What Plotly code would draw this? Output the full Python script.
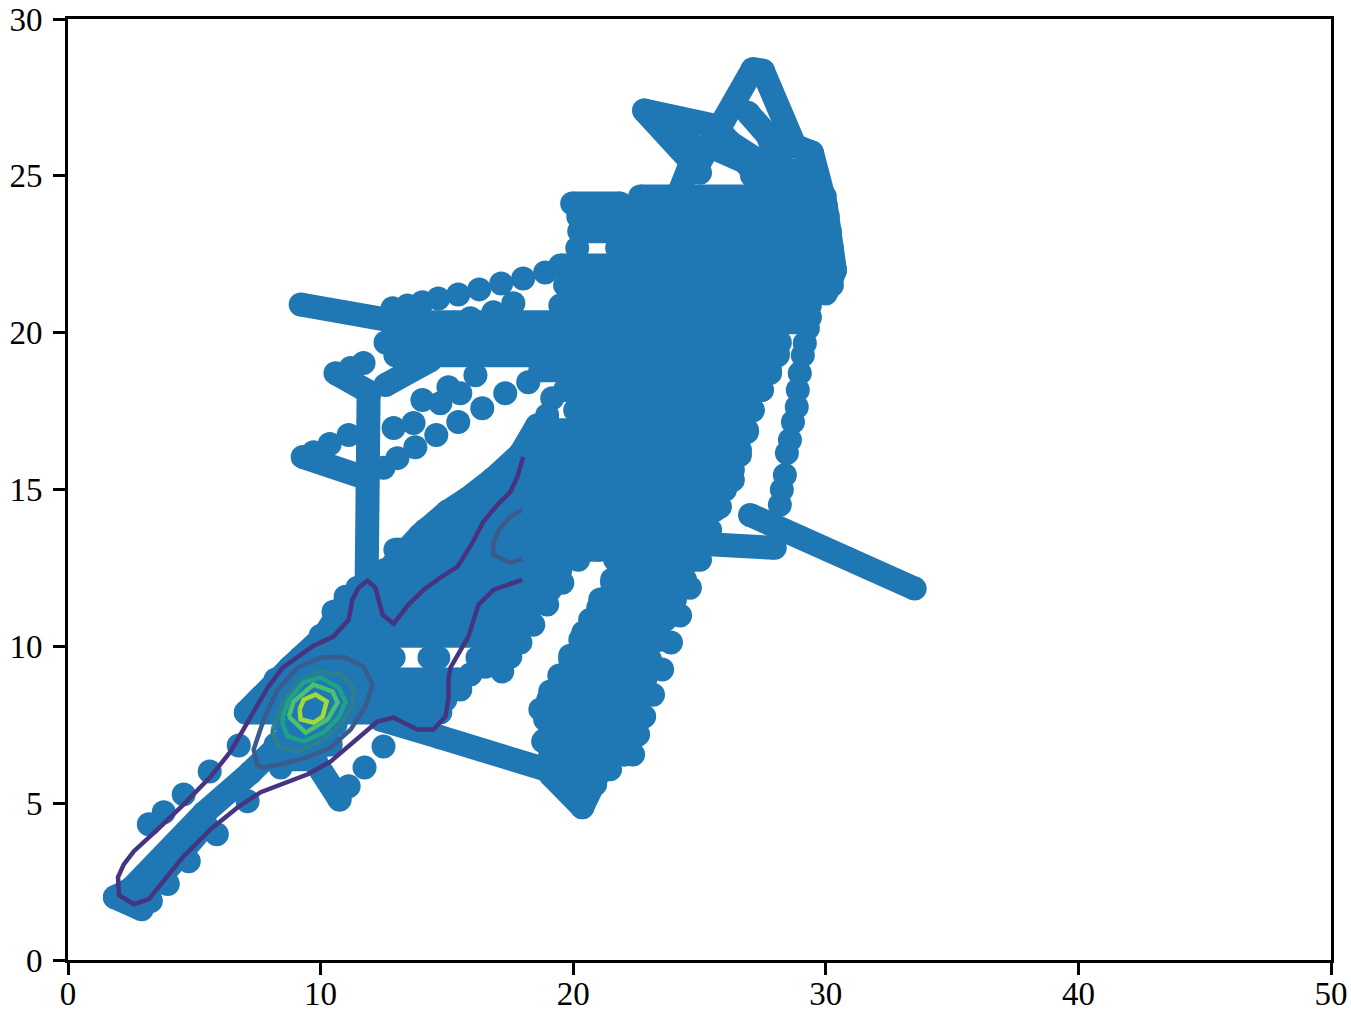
import plotly.graph_objects as go

# tick labels
x_ticks = [0, 10, 20, 30, 40, 50]
y_ticks = [0, 5, 10, 15, 20, 25, 30]

# saturated part of the scatter, read as level / left / right per band
band_y = [24.12, 24.34, 23.70, 23.23, 22.69, 22.14, 21.51, 20.87, 20.33, 19.69, 19.28,
          18.80, 18.17, 17.53, 16.89, 16.26, 15.62, 14.99, 14.35, 13.71, 13.20, 13.08, 12.44,
          11.80, 11.33, 10.85, 10.34, 8.94, 8.30, 7.89, 7.51, 6.87, 6.40,
          12.76, 12.12, 11.49, 10.85, 10.21, 9.58, 8.94, 8.30, 7.67, 7.03, 6.55, 6.08, 5.60]
band_left = [19.96, 22.65, 20.20, 20.24, 21.74, 19.49, 19.68, 19.49, 12.77, 12.57, 12.96,
             18.70, 19.68, 20.08, 19.01, 18.50, 17.71, 16.72, 15.73, 14.15, 21.30, 12.96, 12.57,
             11.98, 11.19, 10.59, 10.00, 8.22, 7.55, 7.04, 8.62, 8.22, 8.62,
             21.66, 21.54, 21.07, 20.67, 20.28, 19.88, 19.49, 19.01, 18.89, 18.89, 19.09, 19.29, 19.88]
band_right = [21.86, 29.96, 30.08, 30.16, 30.24, 30.32, 30.24, 29.37, 29.20, 28.18, 28.10,
              27.79, 27.47, 27.11, 26.88, 26.60, 26.32, 26.01, 25.61, 25.02, 25.02, 21.07, 19.49,
              19.09, 18.50, 18.10, 17.59, 15.45, 14.94, 14.74, 10.59, 10.40, 9.80,
              24.82, 24.43, 24.03, 23.64, 23.44, 23.04, 22.85, 22.65, 22.45, 22.33, 22.06, 21.46, 20.87]
# broken band around the two small holes in the lower arm
gap_band_y = [9.64, 9.64, 9.64]
gap_band_left = [9.21, 14.31, 16.21]
gap_band_right = [12.89, 14.66, 17.04]

# dense runs where the points merge into a stroke
tail_x = [1.86, 2.92, None, 1.86, 2.49, 5.38, 7.23, 8.70, None, 2.92, 5.45]
tail_y = [2.00, 1.62, None, 2.00, 2.26, 4.68, 5.98, 7.13, None, 1.94, 4.33]
branch_x = [9.60, 10.75, None, 12.37, 14.74, 18.89, None, 19.09, 20.36, 21.07]
branch_y = [6.55, 5.12, None, 7.67, 7.10, 6.08, None, 5.92, 4.87, 6.08]
wing_x = [9.21, 12.77, None, 10.59, 11.94, None, 11.90, 11.82, None, 9.29, 11.78, None, 12.57, 14.35]
wing_y = [20.90, 20.39, None, 18.71, 18.10, None, 18.01, 11.80, None, 16.04, 15.37, None, 18.33, 19.12]
arm_top_x = [12.89, 13.95, 15.02, 15.81, 16.84, 17.91, 18.58, None, 7.04, 8.79, 10.12, 11.07, 11.90]
arm_top_y = [12.63, 13.55, 14.29, 14.70, 15.34, 16.13, 17.05, None, 7.89, 9.32, 10.31, 11.49, 11.96]
right_x = [25.02, 27.98, None, 27.00, 33.52]
right_y = [13.27, 13.14, None, 14.19, 11.84]
peak_x = [24.82, 27.11, 27.51, 28.77, 29.45, 30.00, 30.36, 30.00, None,
          22.81, 25.61, 26.21, 27.19, 28.58, None, 22.81, 24.62, None, 23.64, 25.02, None,
          25.61, 26.80, 27.39, None, 26.92, 27.71, 27.91, 28.77, None,
          28.18, 29.57, 29.76, None, 24.23, 24.62, None, 24.62, 25.02, None,
          27.08, 29.57, None, 27.39, 27.08]
peak_y = [25.17, 28.40, 28.35, 25.96, 25.74, 24.05, 21.99, 21.25, None,
          27.08, 26.60, 26.06, 25.55, 24.91, None, 27.08, 25.49, None, 26.60, 25.84, None,
          25.87, 25.45, 24.85, None, 27.01, 26.28, 25.80, 25.96, None,
          25.17, 25.17, 24.53, None, 24.53, 25.33, None, 25.33, 25.10, None,
          25.00, 25.00, None, 24.85, 25.17]

# points that can still be told apart
upper_tail_x = [3.20, 3.79, 4.58, 5.61, 6.76]
upper_tail_y = [4.33, 4.71, 5.28, 6.01, 6.84]
lower_tail_x = [3.28, 3.95, 4.78, 5.89, 7.11, 8.42]
lower_tail_y = [1.88, 2.42, 3.15, 4.01, 5.06, 6.14]
hook_x = [10.75, 11.11, 11.74, 12.49]
hook_y = [5.12, 5.54, 6.14, 6.81]
arc_x = [18.89, 18.02, 17.15, 16.28, 15.45, 14.66, 14.03, 13.44, 12.85, 17.63, 16.84, 15.93]
arc_y = [21.92, 21.73, 21.57, 21.38, 21.22, 21.09, 20.97, 20.87, 20.78, 20.94, 20.65, 20.46]
cluster_x = [16.13, 15.06, 15.53, 14.03, 14.74, 17.31, 18.22, 16.40, 15.45, 14.58, 13.75, 13.04, 12.49,
             12.89, 13.68, 19.17, 18.97, 11.19, 11.70, 11.11, 10.36, 9.72, 20.16]
cluster_y = [18.64, 18.26, 18.07, 17.85, 17.75, 18.07, 18.42, 17.59, 17.15, 16.74, 16.35, 16.00, 15.69,
             16.96, 17.12, 17.91, 17.37, 18.87, 19.03, 16.74, 16.45, 16.19, 22.69]
bump_x = [10.51, 10.99, 11.46, 7.87, 8.54, 9.21, 10.00]
bump_y = [11.10, 11.58, 11.87, 8.37, 8.78, 9.26, 9.86]
arm_low_x = [20.20, 19.57, 18.97, 18.42, 17.91, 17.51, 17.19, 16.52, 15.93, 15.53]
arm_low_y = [12.76, 12.03, 11.33, 10.69, 10.12, 9.67, 9.20, 9.35, 9.10, 8.62]
column_left_x = [21.54, 20.99, 20.40, 19.88, 19.45, 19.09, 18.70, 18.81]
column_left_y = [12.03, 11.23, 10.44, 9.70, 9.07, 8.56, 7.99, 6.97]
column_right_x = [25.02, 24.62, 24.23, 23.87, 23.52, 23.16, 22.81, 22.57, 22.37]
column_right_y = [12.76, 11.87, 10.98, 10.12, 9.26, 8.46, 7.76, 7.19, 6.55]
edge_x = [25.42, 25.81, 26.32, 26.60, 26.88, 27.11, 27.47, 27.79, 28.10]
edge_y = [13.71, 14.45, 15.30, 16.10, 16.83, 17.53, 18.17, 18.71, 19.34]
far_x = [28.18, 28.26, 28.38, 28.46, 28.58, 28.70, 28.85, 28.89, 28.97, 29.09, 29.17, 29.29, 29.37]
far_y = [14.51, 14.99, 15.46, 16.16, 16.58, 17.15, 17.63, 18.17, 18.71, 19.28, 19.66, 20.14, 20.49]

# density contours
level1_x = [18.02, 17.79, 17.51, 17.00, 16.44, 16.01, 15.42, 14.74, 14.07, 13.48, 12.89, 12.45, 12.17, 11.86,
            11.50, 11.26, 11.11, 10.51, 9.72, 9.09, 8.50, 7.91, 7.11, 6.44, 5.65, 4.58, 3.56, 2.61, 2.21, 1.98,
            2.02, 2.61, 3.20, 3.79, 4.58, 5.65, 6.72, 7.63, 8.70, 9.49, 10.40, 11.30, 12.25, 12.89, 13.83, 14.47,
            14.94, 15.06, 15.06, 15.14, 15.85, 16.25, 16.84, 17.19, 17.98]
level1_y = [16.04, 15.40, 14.92, 14.51, 13.97, 13.30, 12.54, 12.19, 11.80, 11.33, 10.72, 11.01, 11.87, 12.09,
            11.87, 11.49, 10.85, 10.31, 10.02, 9.67, 9.32, 8.69, 7.57, 6.65, 5.85, 4.96, 4.17, 3.47, 3.05, 2.64,
            2.07, 1.78, 1.94, 2.51, 3.31, 4.17, 4.87, 5.35, 5.70, 5.92, 6.33, 6.94, 7.60, 7.73, 7.35, 7.35,
            7.76, 8.30, 8.94, 9.32, 10.31, 11.33, 11.80, 11.90, 12.12]
level2_x = [7.51, 7.35, 7.75, 8.30, 9.09, 10.00, 10.91, 11.70, 12.06, 11.78, 11.19, 10.40, 9.49, 8.42, 7.75, 7.51,
            None, 17.98, 17.51, 17.11, 16.84, 16.84, 17.51, 17.98]
level2_y = [6.17, 6.71, 7.67, 8.62, 9.32, 9.64, 9.67, 9.35, 8.78, 8.08, 7.35, 6.78, 6.46, 6.24, 6.14, 6.17,
            None, 14.35, 14.13, 13.78, 13.30, 12.92, 12.66, 12.79]
level3_x = [8.14, 8.50, 9.09, 9.88, 10.79, 11.30, 11.26, 10.79, 10.00, 9.09, 8.34, 8.10, 8.14]
level3_y = [7.45, 8.21, 8.85, 9.20, 9.10, 8.69, 8.08, 7.51, 6.97, 6.65, 6.81, 7.25, 7.45]
level4_x = [8.50, 8.74, 9.33, 10.00, 10.71, 10.99, 10.71, 10.12, 9.33, 8.70, 8.50, 8.50]
level4_y = [7.76, 8.30, 8.85, 9.00, 8.69, 8.24, 7.73, 7.25, 6.97, 7.13, 7.51, 7.76]
level5_x = [8.74, 8.93, 9.72, 10.47, 10.67, 10.28, 9.41, 8.74]
level5_y = [7.76, 8.24, 8.78, 8.56, 8.21, 7.67, 7.25, 7.76]
level6_x = [9.17, 9.33, 9.80, 10.24, 10.08, 9.72, 9.21, 9.17]
level6_y = [7.99, 8.30, 8.46, 8.24, 7.76, 7.57, 7.67, 7.99]

BLUE = "#1f77b4"
levels = [
    (level1_x, level1_y, "#463480"),
    (level2_x, level2_y, "#3b5b8c"),
    (level3_x, level3_y, "#2c7f8e"),
    (level4_x, level4_y, "#1fa187"),
    (level5_x, level5_y, "#4ac16d"),
    (level6_x, level6_y, "#a0da39"),
]


def bands(ys, lefts, rights):
    xs_out, ys_out = [], []
    for y, a, b in zip(ys, lefts, rights):
        xs_out += [a, b, None]
        ys_out += [y, y, None]
    return xs_out, ys_out


def segments(xs, ys):
    # every leg on its own, so the wide line gets no mitred corners past the markers
    xs_out, ys_out = [], []
    for i in range(len(xs) - 1):
        if xs[i] is None or xs[i + 1] is None:
            continue
        xs_out += [xs[i], xs[i + 1], None]
        ys_out += [ys[i], ys[i + 1], None]
    return xs_out, ys_out


band_xs, band_ys = bands(band_y, band_left, band_right)
gap_xs, gap_ys = bands(gap_band_y, gap_band_left, gap_band_right)

fig = go.Figure()

for xs, ys in [(band_xs, band_ys), (gap_xs, gap_ys), segments(tail_x, tail_y), segments(branch_x, branch_y),
               segments(wing_x, wing_y), segments(arm_top_x, arm_top_y), segments(right_x, right_y),
               segments(peak_x, peak_y)]:
    fig.add_trace(go.Scatter(x=xs, y=ys, mode="lines+markers",
                             line=dict(color=BLUE, width=24),
                             marker=dict(color=BLUE, size=24)))

for xs, ys in [(upper_tail_x, upper_tail_y), (lower_tail_x, lower_tail_y), (hook_x, hook_y),
               (arc_x, arc_y), (cluster_x, cluster_y), (bump_x, bump_y), (arm_low_x, arm_low_y),
               (column_left_x, column_left_y), (column_right_x, column_right_y),
               (edge_x, edge_y), (far_x, far_y)]:
    fig.add_trace(go.Scatter(x=xs, y=ys, mode="markers", marker=dict(color=BLUE, size=24)))

for xs, ys, colour in levels:
    fig.add_trace(go.Scatter(x=xs, y=ys, mode="lines", line=dict(color=colour, width=4.5)))

axis = dict(showgrid=False, zeroline=False, showline=True, mirror=True, linecolor="black", linewidth=3,
            ticks="outside", ticklen=12, tickwidth=3, tickcolor="black", automargin=False,
            tickfont=dict(family="Liberation Serif", size=33, color="black"))

fig.update_layout(width=1351, height=1012, showlegend=False,
                  paper_bgcolor="white", plot_bgcolor="white",
                  margin=dict(l=68, r=20, t=19, b=52),
                  xaxis=dict(range=[0, 50], tickvals=x_ticks, ticklabelstandoff=-10, **axis),
                  yaxis=dict(range=[0, 30], tickvals=y_ticks, ticklabelstandoff=4, **axis))

fig.write_html("out.html", config={"displayModeBar": False},
               post_script="document.body.style.margin='0';")
